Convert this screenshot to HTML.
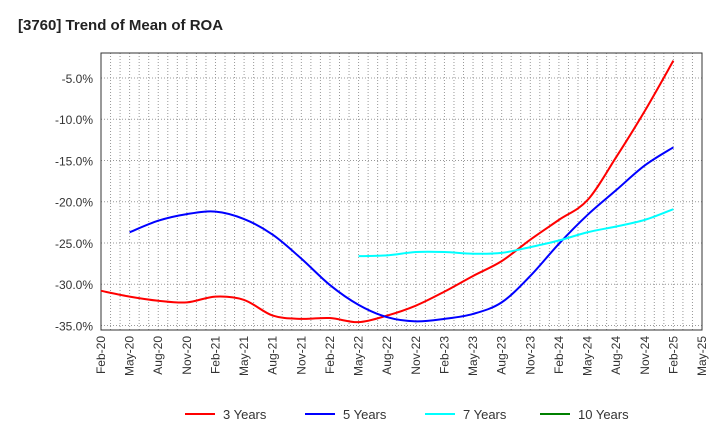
<!DOCTYPE html>
<html><head><meta charset="utf-8"><style>
body{margin:0;background:#fff;font-family:"Liberation Sans",sans-serif}
svg text{font-family:"Liberation Sans",sans-serif}
</style></head><body>
<svg width="720" height="440">
<text x="18" y="30" font-size="15" font-weight="bold" fill="#222">[3760]  Trend of Mean of ROA</text>
<g id="grid"></g><g id="axes"></g><g id="series"></g><g id="legend"></g>
</svg>
<script>
const xLabels=["Feb-20","May-20","Aug-20","Nov-20","Feb-21","May-21","Aug-21","Nov-21","Feb-22","May-22","Aug-22","Nov-22","Feb-23","May-23","Aug-23","Nov-23","Feb-24","May-24","Aug-24","Nov-24","Feb-25","May-25"];
const yTicks=[-5,-10,-15,-20,-25,-30,-35];
const red=[-30.8,-31.5,-32,-32.2,-31.5,-31.9,-33.8,-34.2,-34.1,-34.6,-33.8,-32.6,-30.9,-29,-27.2,-24.6,-22.2,-19.8,-14.6,-9.0,-2.9];
const redStart=0;
const blue=[-23.7,-22.3,-21.5,-21.2,-22.1,-24,-26.9,-30.1,-32.5,-34,-34.5,-34.2,-33.6,-32.2,-29,-25.1,-21.6,-18.6,-15.6,-13.4];
const blueStart=1;
const cyan=[-26.6,-26.5,-26.1,-26.1,-26.3,-26.2,-25.5,-24.7,-23.7,-23,-22.2,-20.9];
const cyanStart=9;
const seriesNames=["3 Years","5 Years","7 Years","10 Years"];
const seriesColors=["#ff0000","#0000ff","#00ffff","#008000"];

const L=101,R=702,T=53,B=330;
const yMin=-35.55,yMax=-1.97;
const X=q=>L+q*(R-L)/21;
const Y=v=>T+(yMax-v)*(B-T)/(yMax-yMin);
const ns="http://www.w3.org/2000/svg";
function mk(tag,attrs,parent){const e=document.createElementNS(ns,tag);for(const k in attrs)e.setAttribute(k,attrs[k]);parent.appendChild(e);return e;}
const grid=document.getElementById('grid'),axes=document.getElementById('axes'),ser=document.getElementById('series'),leg=document.getElementById('legend');
for(let m=1;m<63;m++){const x=L+m*(R-L)/63;const l=mk('line',{x1:x,x2:x,y1:T,y2:B,stroke:'#999','stroke-dasharray':'1,2','stroke-width':1},grid);

}
yTicks.forEach(v=>{const y=Y(v);const l=mk('line',{x1:L,x2:R,y1:y,y2:y,stroke:'#999','stroke-dasharray':'1,2'},grid);


const t=mk('text',{x:L-8,y:y+5,'text-anchor':'end','font-size':12,fill:'#333'},axes);t.textContent=v.toFixed(1)+'%';

});
const fr=mk('rect',{x:L,y:T,width:R-L,height:B-T,fill:'none',stroke:'#333'},axes);


xLabels.forEach((s,i)=>{const x=X(i);const t=mk('text',{x:0,y:0,'text-anchor':'end','font-size':12,fill:'#333',transform:`translate(${x+4},${B+6}) rotate(-90)`},axes);t.textContent=s;

});
function path(vals,start){const p=vals.map((v,i)=>[X(start+i),Y(v)]);let d=`M${p[0][0]},${p[0][1]}`;
for(let i=0;i<p.length-1;i++){const p0=p[i-1]||p[i],p1=p[i],p2=p[i+1],p3=p[i+2]||p2;
d+=` C${p1[0]+(p2[0]-p0[0])/6},${p1[1]+(p2[1]-p0[1])/6} ${p2[0]-(p3[0]-p1[0])/6},${p2[1]-(p3[1]-p1[1])/6} ${p2[0]},${p2[1]}`;}return d;}
[[red,redStart,0,'series-3-years'],[blue,blueStart,1,'series-5-years'],[cyan,cyanStart,2,'series-7-years']].forEach(([v,s,c,n])=>{
const p=mk('path',{d:path(v,s),fill:'none',stroke:seriesColors[c],'stroke-width':2},ser);

});
const lx=[185,305,425,540];
seriesNames.forEach((n,i)=>{const l=mk('line',{x1:lx[i],x2:lx[i]+30,y1:414,y2:414,stroke:seriesColors[i],'stroke-width':2},leg);


const t=mk('text',{x:lx[i]+38,y:419,'font-size':13,fill:'#333'},leg);t.textContent=n;

});
</script>
</body></html>
